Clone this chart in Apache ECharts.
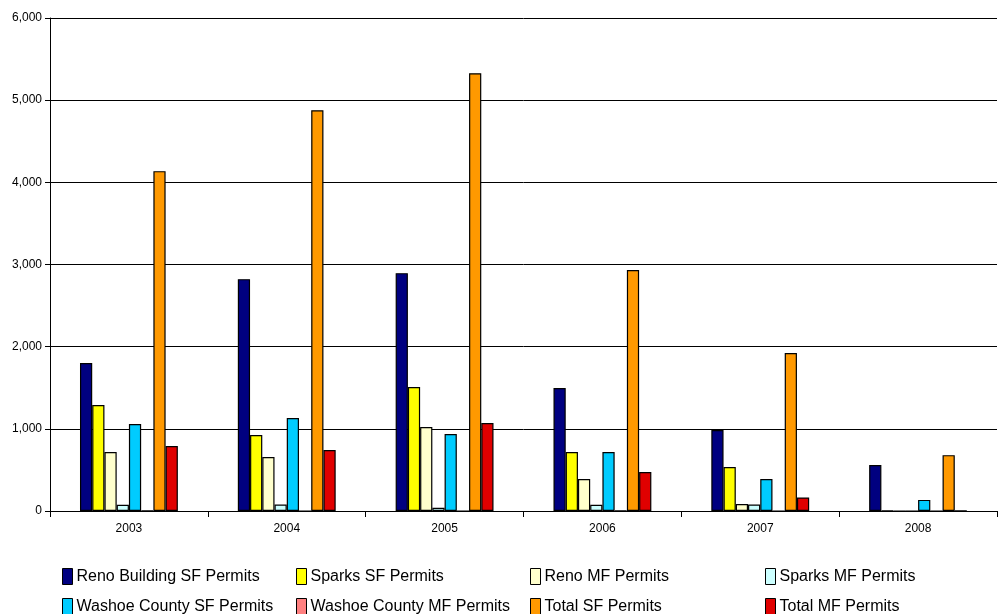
<!DOCTYPE html>
<html>
<head>
    <meta charset="UTF-8"/>
    <title>permits</title>
    <script src="https://cdn.jsdelivr.net/npm/echarts@6/dist/echarts.min.js"></script>
    <style>
        html, body { margin: 0; padding: 0; background: #fff; }
        #main { width: 1005px; height: 614px; }
    </style>
</head>
<body>
<div id="main"></div>
<script>
    // years on the x axis
    var years = ['2003', '2004', '2005', '2006', '2007', '2008'];

    // series values
    var renoSF    = [1800, 2822, 2895, 1496, 985, 560];
    var sparksSF  = [1290, 925, 1508, 718, 535, 5];
    var renoMF    = [718, 657, 1022, 390, 85, 0];
    var sparksMF  = [75, 80, 40, 75, 80, 0];
    var washoeSF  = [1058, 1131, 937, 718, 390, 135];
    var washoeMF  = [5, 0, 0, 5, 0, 0];
    var totalSF   = [4136, 4878, 5328, 2932, 1922, 680];
    var totalMF   = [790, 742, 1070, 474, 165, 5];

    var names = ['Reno Building SF Permits', 'Sparks SF Permits', 'Reno MF Permits', 'Sparks MF Permits',
                 'Washoe County SF Permits', 'Washoe County MF Permits', 'Total SF Permits', 'Total MF Permits'];
    var colors = ['#000080', '#FFFF00', '#FFFFCC', '#CCFFFF', '#00CCFF', '#FF8080', '#FF9900', '#E00000'];
    var values = [renoSF, sparksSF, renoMF, sparksMF, washoeSF, washoeMF, totalSF, totalMF];

    var series = [];
    for (var i = 0; i < names.length; i++) {
        series.push({
            name: names[i],
            type: 'bar',
            data: values[i],
            barGap: 0,
            barCategoryGap: '38%',
            itemStyle: { color: colors[i], borderColor: '#000', borderWidth: 1.2 }
        });
    }

    // one legend per item so columns line up like the original
    var legendX = [62, 296, 530, 765];
    var legendY = [568, 598];
    var legends = [];
    for (var j = 0; j < names.length; j++) {
        legends.push({
            data: [names[j]],
            left: legendX[j % 4],
            top: legendY[Math.floor(j / 4)],
            itemWidth: 10,
            itemHeight: 16,
            itemGap: 0,
            padding: 0,
            selectedMode: false,
            icon: 'rect',
            itemStyle: { borderColor: '#000', borderWidth: 1 },
            textStyle: { fontFamily: 'Liberation Sans', fontSize: 16, color: '#000', padding: [0, 0, 0, -1] }
        });
    }

    var chart = echarts.init(document.getElementById('main'), null, { renderer: 'canvas' });
    chart.setOption({
        animation: false,
        backgroundColor: '#fff',
        legend: legends,
        grid: { left: 50, right: 8, top: 18, bottom: 103, containLabel: false },
        xAxis: {
            type: 'category',
            data: years,
            axisLine: { lineStyle: { color: '#000', width: 1 } },
            axisTick: { show: true, inside: false, length: 6, lineStyle: { color: '#000' } },
            axisLabel: { fontFamily: 'Liberation Sans', fontSize: 12, color: '#000', margin: 12 }
        },
        yAxis: {
            type: 'value',
            min: 0,
            max: 6000,
            interval: 1000,
            axisLine: { show: true, lineStyle: { color: '#000', width: 1 } },
            axisTick: { show: true, length: 5, lineStyle: { color: '#000' } },
            splitLine: { lineStyle: { color: '#000', width: 1 } },
            axisLabel: {
                fontFamily: 'Liberation Sans', fontSize: 12, color: '#000', margin: 8,
                formatter: function (v) { return v.toLocaleString('en-US'); }
            }
        },
        series: series
    });
</script>
</body>
</html>
